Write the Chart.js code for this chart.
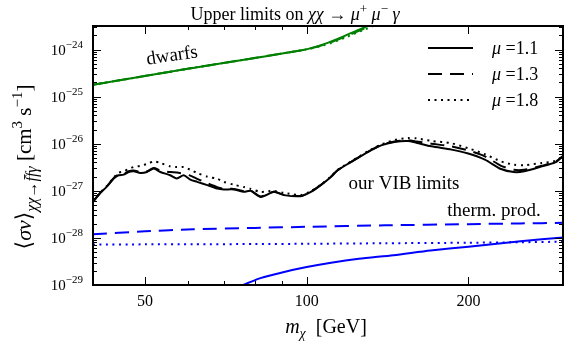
<!DOCTYPE html>
<html>
<head>
<meta charset="utf-8">
<script src="https://cdn.jsdelivr.net/npm/chart.js@4.4.0/dist/chart.umd.min.js"></script>
<style>
  html, body { margin: 0; padding: 0; background: #fff; }
</style>
</head>
<body>
<canvas id="c" width="581" height="357"></canvas>
<script>
// masses (GeV) where the VIB limit curves were read
const massVIB = [40, 41.2, 42.4, 43.7, 44.6, 45.6, 46.6, 47.6, 49.0, 50.4,
	51.9, 53.4, 55.7, 57.3, 59.0, 60.7, 62.5, 65.3, 68.1, 70.1,
	73.1, 76.4, 78.6, 82.1, 86.9, 90.7, 97.5, 101.8, 106.2, 110.9,
	114.2, 120.9, 129.9, 137.6, 145.7, 154.3, 160, 170.6, 186, 199.8,
	214.6, 230, 243, 254, 274, 290, 300];

// our VIB limits, <sigma v> in cm^3 s^-1
const vibMu11 = [5.8e-28, 8.8e-28, 1.21e-27, 1.82e-27, 2.14e-27, 2.21e-27, 2.51e-27, 2.6e-27, 2.39e-27, 2.51e-27,
	2.97e-27, 2.51e-27, 2.14e-27, 1.82e-27, 2.14e-27, 1.73e-27, 1.55e-27, 1.32e-27, 1.12e-27, 1.07e-27,
	1.07e-27, 9.5e-28, 1.0e-27, 7.4e-28, 9.5e-28, 8.1e-28, 7.7e-28, 9.5e-28, 1.32e-27, 1.97e-27,
	2.73e-27, 4.09e-27, 6.67e-27, 9.25e-27, 1.09e-26, 1.14e-26, 1.05e-26, 8.8e-27, 7.5e-27, 6.2e-27,
	4.6e-27, 2.9e-27, 2.5e-27, 2.6e-27, 3.3e-27, 4.0e-27, 5.5e-27];
const vibMu13 = [5.9e-28, 8.9e-28, 1.22e-27, 1.85e-27, 2.2e-27, 2.3e-27, 2.6e-27, 2.7e-27, 2.5e-27, 2.6e-27,
	3.05e-27, 2.7e-27, 2.5e-27, 2.45e-27, 2.3e-27, 2.1e-27, 1.8e-27, 1.45e-27, 1.2e-27, 1.1e-27,
	1.1e-27, 9.8e-28, 1.02e-27, 7.6e-28, 9.6e-28, 8.2e-28, 7.8e-28, 9.6e-28, 1.33e-27, 1.98e-27,
	2.75e-27, 4.1e-27, 6.7e-27, 9.4e-27, 1.12e-26, 1.18e-26, 1.12e-26, 1.0e-26, 8.8e-27, 7.2e-27,
	5.4e-27, 3.4e-27, 2.8e-27, 2.8e-27, 3.4e-27, 4.1e-27, 5.5e-27];
const vibMu18 = [6.0e-28, 9.0e-28, 1.25e-27, 1.9e-27, 2.4e-27, 2.6e-27, 2.9e-27, 3.2e-27, 3.4e-27, 3.7e-27,
	4.2e-27, 3.9e-27, 3.3e-27, 3.2e-27, 3.2e-27, 2.8e-27, 2.4e-27, 2.0e-27, 1.8e-27, 1.55e-27,
	1.35e-27, 1.2e-27, 1.1e-27, 9.5e-28, 1.0e-27, 9.0e-28, 8.2e-28, 9.8e-28, 1.35e-27, 2.0e-27,
	2.8e-27, 4.2e-27, 6.9e-27, 9.6e-27, 1.2e-26, 1.32e-26, 1.3e-26, 1.15e-26, 1.02e-26, 8.0e-27,
	6.0e-27, 4.2e-27, 3.6e-27, 3.5e-27, 3.9e-27, 4.3e-27, 5.5e-27];

// dwarf galaxy limits (green)
const massDwarf = [40, 60.8, 99, 108, 118, 128, 140];
const dwarfMu11 = [1.79e-25, 4.0e-25, 9.9e-25, 1.32e-24, 1.98e-24, 2.96e-24, 4.6e-24];
const dwarfMu13 = [1.79e-25, 4.0e-25, 9.9e-25, 1.28e-24, 1.88e-24, 2.8e-24, 4.3e-24];
const dwarfMu18 = [1.79e-25, 4.0e-25, 9.9e-25, 1.24e-24, 1.8e-24, 2.65e-24, 4.0e-24];

// thermal production (blue)
const massTherm = [40, 50, 61.5, 80, 100, 140, 200, 250, 300];
const thermMu13 = [1.2e-28, 1.38e-28, 1.53e-28, 1.63e-28, 1.72e-28, 1.85e-28, 1.96e-28, 2.03e-28, 2.09e-28];
const thermMu18 = [7.2e-29, 7.3e-29, 7.35e-29, 7.4e-29, 7.5e-29, 7.7e-29, 7.9e-29, 8.1e-29, 8.3e-29];
const massThermSolid = [70, 76, 82, 90, 100, 111, 125, 145, 170, 200, 250, 300];
const thermMu11 = [7.5e-30, 1.0e-29, 1.4e-29, 1.85e-29, 2.4e-29, 2.97e-29, 3.6e-29, 4.3e-29, 5.4e-29, 6.5e-29, 8.5e-29, 1.02e-28];

// axes
const xMajorTicks = [50, 100, 200];
const xMinorTicks = [40, 60, 70, 80, 90, 300];
const yDecades = [-29, -28, -27, -26, -25, -24];

const muLabels = ["1.1", "1.3", "1.8"];
const DASH = [14, 8];
const DOT = [2, 4.5];
const SERIF = '"Liberation Serif", "DejaVu Serif", serif';

function pts(xs, ys) {
	return xs.map((x, i) => ({ x: x, y: ys[i] }));
}

function fnt(size, it) {
	return (it ? "italic " : "") + size + "px " + SERIF;
}

// draw a row of text pieces (sub/superscripts via dy)
function drawRich(ctx, parts, x, y, align) {
	let w = 0;
	parts.forEach((p) => {
		ctx.font = fnt(p.s, p.it);
		w += ctx.measureText(p.t).width;
	});
	let cx = align === "center" ? x - w / 2 : align === "right" ? x - w : x;
	ctx.textAlign = "left";
	ctx.textBaseline = "alphabetic";
	parts.forEach((p) => {
		ctx.font = fnt(p.s, p.it);
		ctx.fillText(p.t, cx, y + (p.dy || 0));
		cx += ctx.measureText(p.t).width;
	});
}

function seg(ctx, x1, y1, x2, y2) {
	ctx.beginPath();
	ctx.moveTo(x1, y1);
	ctx.lineTo(x2, y2);
	ctx.stroke();
}

function lineSet(label, data, color, dash, width) {
	return {
		label: label,
		data: data,
		borderColor: color,
		borderWidth: width || 2,
		borderDash: dash,
		pointRadius: 0,
		fill: false,
		tension: 0.25,
	};
}

const decorations = {
	id: "decorations",
	afterDatasetsDraw(chart) {
		const { ctx, chartArea: a, scales } = chart;
		const xs = scales.x;
		const ys = scales.y;
		ctx.save();
		ctx.fillStyle = "#000";
		ctx.strokeStyle = "#000";

		// y ticks, inward on both sides
		ctx.lineWidth = 1;
		yDecades.forEach((e) => {
			for (let m = 1; m <= 9; m++) {
				const v = m * Math.pow(10, e);
				if (v > ys.max) break;
				const py = Math.round(ys.getPixelForValue(v)) + 0.5;
				const len = m === 1 ? 8 : 4;
				seg(ctx, a.left, py, a.left + len, py);
				seg(ctx, a.right, py, a.right - len, py);
			}
			const py = ys.getPixelForValue(Math.pow(10, e));
			drawRich(ctx, [{ t: "10", s: 15 }, { t: "−" + String(-e), s: 11, dy: -7 }], 83, py + 5, "right");
		});

		// x ticks top and bottom
		xMajorTicks.concat(xMinorTicks).forEach((v) => {
			const px = Math.round(xs.getPixelForValue(v)) + 0.5;
			const len = xMajorTicks.includes(v) ? 8 : 4;
			seg(ctx, px, a.bottom, px, a.bottom - len);
			seg(ctx, px, a.top, px, a.top + len);
		});
		xMajorTicks.forEach((v) => {
			drawRich(ctx, [{ t: String(v), s: 16 }], xs.getPixelForValue(v), 306, "center");
		});

		// frame
		ctx.lineWidth = 2;
		ctx.strokeRect(a.left, a.top, a.right - a.left, a.bottom - a.top);

		// title
		drawRich(ctx, [
			{ t: "Upper limits on ", s: 18 },
			{ t: "χχ", s: 18, it: true },
			{ t: " → ", s: 18 },
			{ t: "μ", s: 18, it: true },
			{ t: "+", s: 13, dy: -7 },
			{ t: " μ", s: 18, it: true },
			{ t: "−", s: 13, dy: -7 },
			{ t: " γ", s: 18, it: true },
		], 295, 20, "center");

		// axis titles
		drawRich(ctx, [
			{ t: "m", s: 20, it: true },
			{ t: "χ", s: 14, it: true, dy: 5 },
			{ t: "  [GeV]", s: 20 },
		], 326, 333, "center");

		ctx.save();
		ctx.translate(31, 167);
		ctx.rotate(-Math.PI / 2);
		drawRich(ctx, [
			{ t: "⟨", s: 22 },
			{ t: "σv", s: 22, it: true },
			{ t: "⟩", s: 22 },
			{ t: "χχ", s: 16, it: true, dy: 6 },
			{ t: "→", s: 16, dy: 6 },
			{ t: "f\u0304fγ", s: 16, it: true, dy: 6 },
			{ t: " [cm", s: 21 },
			{ t: "3", s: 15, dy: -9 },
			{ t: " s", s: 21 },
			{ t: "−1", s: 15, dy: -9 },
			{ t: "]", s: 21 },
		], 0, 0, "center");
		ctx.restore();

		// curve annotations
		ctx.save();
		ctx.translate(172, 56);
		ctx.rotate(-8.5 * Math.PI / 180);
		drawRich(ctx, [{ t: "dwarfs", s: 19 }], 0, 5, "center");
		ctx.restore();
		drawRich(ctx, [{ t: "our VIB limits", s: 19 }], 404, 189, "center");
		drawRich(ctx, [{ t: "therm. prod.", s: 19 }], 494, 216, "center");

		// legend
		const dashes = [[], DASH, DOT];
		muLabels.forEach((mu, i) => {
			const ly = [48, 74, 100][i];
			ctx.lineWidth = 2;
			ctx.setLineDash(dashes[i]);
			seg(ctx, 428, ly, 473, ly);
			ctx.setLineDash([]);
			drawRich(ctx, [{ t: "μ", s: 18, it: true }, { t: " =" + mu, s: 18 }], 492, ly + 6, "left");
		});
		ctx.restore();
	},
};

new Chart(document.getElementById("c"), {
	type: "line",
	data: {
		datasets: [
			lineSet("therm mu=1.1", pts(massThermSolid, thermMu11), "#0000ff"),
			lineSet("therm mu=1.3", pts(massTherm, thermMu13), "#0000ff", DASH),
			lineSet("therm mu=1.8", pts(massTherm, thermMu18), "#0000ff", DOT),
			lineSet("dwarfs mu=1.8", pts(massDwarf, dwarfMu18), "#008000", DOT),
			lineSet("dwarfs mu=1.3", pts(massDwarf, dwarfMu13), "#008000", DASH),
			lineSet("dwarfs mu=1.1", pts(massDwarf, dwarfMu11), "#008000"),
			lineSet("VIB mu=1.8", pts(massVIB, vibMu18), "#000", DOT),
			lineSet("VIB mu=1.3", pts(massVIB, vibMu13), "#000", DASH),
			lineSet("VIB mu=1.1", pts(massVIB, vibMu11), "#000"),
		],
	},
	options: {
		responsive: false,
		animation: false,
		devicePixelRatio: 1,
		layout: { padding: { left: 93, right: 18, top: 26, bottom: 72 } },
		plugins: { legend: { display: false }, tooltip: { enabled: false } },
		scales: {
			x: { type: "logarithmic", min: 40, max: 300, display: false },
			y: { type: "logarithmic", min: 1e-29, max: Math.pow(10, -23.5), display: false },
		},
	},
	plugins: [decorations],
});
</script>
</body>
</html>
